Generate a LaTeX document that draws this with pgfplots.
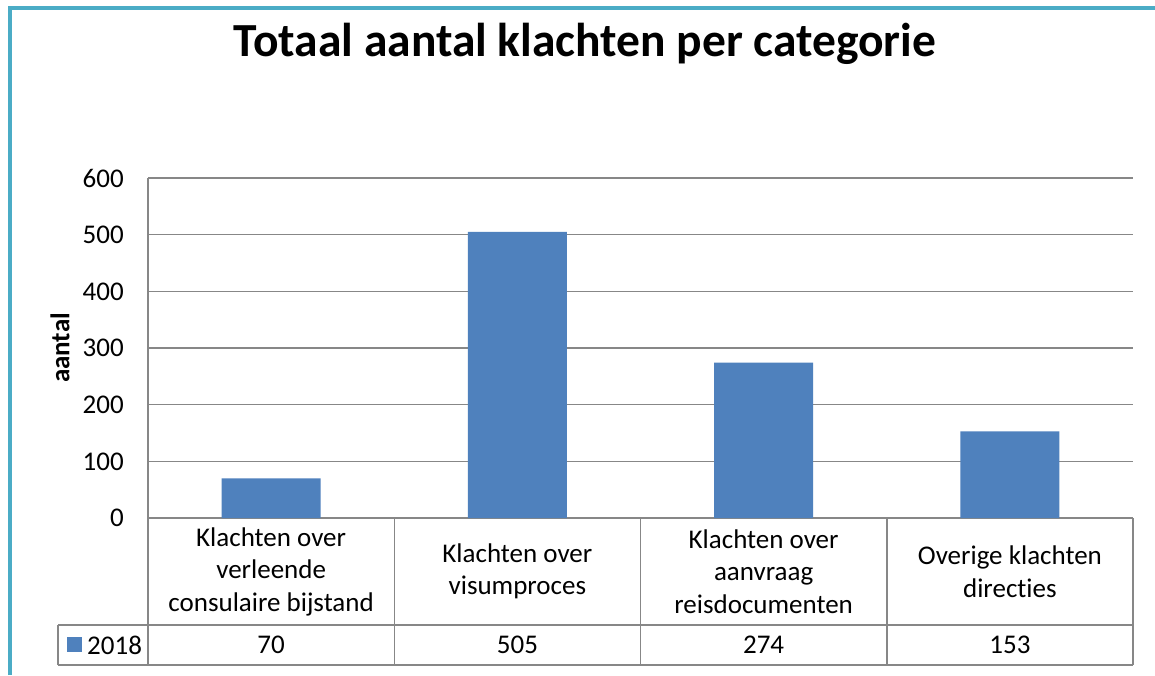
\documentclass[border=0pt]{standalone}
\usepackage{pgfplots}
\pgfplotsset{compat=1.18}
\usepackage{fontspec}
\setmainfont{Carlito}[Ligatures=NoCommon]
\definecolor{barblue}{HTML}{4F81BD}
\definecolor{framecol}{HTML}{4BACC6}
\definecolor{gridgray}{HTML}{878787}
\begin{document}
\begin{tikzpicture}[x=1pt,y=1pt]
\useasboundingbox (0,0) rectangle (1155,675);
\fill[white] (0,0) rectangle (1155,675);
\draw[framecol, line width=4pt] (10,0) -- (10,666.5) -- (1155,666.5);
\begin{axis}[
  at={(148pt,157pt)}, anchor=south west,
  scale only axis, width=985pt, height=340pt,
  xmin=-0.5, xmax=3.5, ymin=0, ymax=600,
  ybar, bar width=99pt,
  ytick={0,100,...,600},
  xtick={0,1,2,3},
  xticklabels={{Klachten over\\verleende\\consulaire bijstand},{Klachten over\\visumproces},{Klachten over\\aanvraag\\reisdocumenten},{Overige klachten\\directies}},
  ymajorgrids, grid style={gridgray, line width=1.5pt},
  axis x line=bottom, axis y line=left,
  axis line style={-, draw=gridgray, line width=1.5pt},
  major tick length=0pt,
  tick label style={font=\fontsize{27}{32.5}\selectfont, black},
  /pgf/number format/assume math mode=true,
  yticklabel style={anchor=east, inner sep=0pt, xshift=-24pt},
  xticklabel style={anchor=center, align=center, inner sep=0pt, yshift=-53.5pt},
  clip=false,
]
\addplot[fill=barblue, draw=none] coordinates {(0,70) (1,505) (2,274) (3,153)};
\end{axis}
% data table
\begin{scope}[gridgray, line width=1.5pt]
\draw (58,50) -- (1133,50);
\draw (58,10) -- (1133,10);
\draw (58,10) -- (58,50);
\foreach \xx in {148,394.25,640.5,886.75,1133} \draw (\xx,10) -- (\xx,157);
\end{scope}
\fill[barblue] (67,23) rectangle (82,38);
\node[anchor=west, inner sep=0pt, font=\fontsize{27}{32}\selectfont] at (87,30) {2018};
\begin{scope}[font=\fontsize{27}{32}\selectfont]
\node at (271.1,30) {70};
\node at (517.4,30) {505};
\node at (763.6,30) {274};
\node at (1009.9,30) {153};
\end{scope}
\node[rotate=90, font=\fontsize{27}{32}\selectfont\bfseries] at (60,327) {aantal};
\node[anchor=base, font=\fontsize{47.5}{56}\selectfont\bfseries] at (585,618) {Totaal aantal klachten per categorie};
\end{tikzpicture}
\end{document}
